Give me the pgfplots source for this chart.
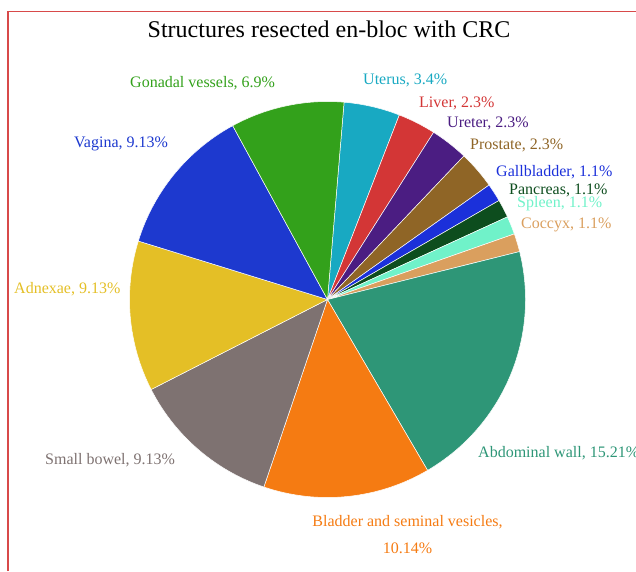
\documentclass[border=0pt]{standalone}
\usepackage{pgfplots}
\usepackage{pgfplotstable}
\pgfplotsset{compat=1.18}
\usepackage{fontspec}
\setmainfont{Liberation Serif}

% slice colours, in data order (clockwise from the top)
\definecolor{c0}{HTML}{18A9C2}  % Uterus
\definecolor{c1}{HTML}{D33636}  % Liver
\definecolor{c2}{HTML}{4B1D82}  % Ureter
\definecolor{c3}{HTML}{8F6526}  % Prostate
\definecolor{c4}{HTML}{1B30DA}  % Gallbladder
\definecolor{c5}{HTML}{0D4D1E}  % Pancreas
\definecolor{c6}{HTML}{70F2C9}  % Spleen
\definecolor{c7}{HTML}{DA9F5E}  % Coccyx
\definecolor{c8}{HTML}{2E9677}  % Abdominal wall
\definecolor{c9}{HTML}{F57B12}  % Bladder and seminal vesicles
\definecolor{c10}{HTML}{7E7271} % Small bowel
\definecolor{c11}{HTML}{E4BF26} % Adnexae
\definecolor{c12}{HTML}{1D39CF} % Vagina
\definecolor{c13}{HTML}{33A11B} % Gonadal vessels
\definecolor{frame}{HTML}{D84A4A}

\pgfplotstableread{
value
3.4
2.3
2.3
2.3
1.1
1.1
1.1
1.1
15.21
10.14
9.13
9.13
9.13
6.9
}\piedata

% cumulative angles of the slices
\def\startangle{85.2}
\pgfmathsetmacro\total{0}
\pgfplotsforeachungrouped \i in {0,...,13}{%
  \pgfplotstablegetelem{\i}{value}\of\piedata
  \pgfmathsetmacro\total{\total+\pgfplotsretval}%
}
\pgfmathsetmacro\cum{\startangle}
\pgfplotsforeachungrouped \i in {0,...,13}{%
  \pgfplotstablegetelem{\i}{value}\of\piedata
  \pgfmathsetmacro\slice{360*\pgfplotsretval/\total}%
  \expandafter\xdef\csname sa\i\endcsname{\cum}%
  \pgfmathsetmacro\cum{\cum-\slice}%
  \expandafter\xdef\csname ea\i\endcsname{\cum}%
}

\begin{document}
\begin{tikzpicture}
\begin{axis}[
    hide axis,
    x=1pt, y=1pt,
    xmin=0, xmax=636,
    ymin=0, ymax=571,
    clip=false,
    nodes={inner sep=0pt, font=\fontsize{16}{19}\selectfont},
]
\coordinate (bl) at (axis cs:0,0);
\coordinate (tr) at (axis cs:636,571);

\pgfplotsinvokeforeach{0,...,13}{
  \fill[c#1, draw=white, line width=0.5pt]
    (axis cs:327.5,271.5) -- ++(\csname sa#1\endcsname:198pt)
    arc[start angle=\csname sa#1\endcsname, end angle=\csname ea#1\endcsname, radius=198pt]
    -- cycle;
}

% frame
\draw[frame, line width=1.3pt] (axis cs:8,0) -- (axis cs:8,559.5) -- (axis cs:636,559.5);

% title
\node[anchor=base, font=\fontsize{24}{28}\selectfont] at (axis cs:329,533)
  {Structures resected en-bloc with CRC};

% slice labels
\node[anchor=base west, text=c13] at (axis cs:130,483) {Gonadal vessels, 6.9\%};
\node[anchor=base west, text=c0]  at (axis cs:363,486) {Uterus, 3.4\%};
\node[anchor=base west, text=c1]  at (axis cs:419,463) {Liver, 2.3\%};
\node[anchor=base west, text=c2]  at (axis cs:447,443) {Ureter, 2.3\%};
\node[anchor=base west, text=c3]  at (axis cs:470,421) {Prostate, 2.3\%};
\node[anchor=base west, text=c4]  at (axis cs:496,394) {Gallbladder, 1.1\%};
\node[anchor=base west, text=c5]  at (axis cs:509,376) {Pancreas, 1.1\%};
\node[anchor=base west, text=c6]  at (axis cs:517,363) {Spleen, 1.1\%};
\node[anchor=base west, text=c7]  at (axis cs:521,343) {Coccyx, 1.1\%};
\node[anchor=base west, text=c12] at (axis cs:74,423)  {Vagina, 9.13\%};
\node[anchor=base west, text=c11] at (axis cs:14,278)  {Adnexae, 9.13\%};
\node[anchor=base west, text=c10] at (axis cs:45,107)  {Small bowel, 9.13\%};
\node[anchor=base west, text=c8]  at (axis cs:478,114) {Abdominal wall, 15.21\%};
\node[anchor=base, text=c9] at (axis cs:407.5,45) {Bladder and seminal vesicles,};
\node[anchor=base, text=c9] at (axis cs:407.5,18) {10.14\%};
\end{axis}
\pgfresetboundingbox
\path[use as bounding box] (bl) rectangle (tr);
\end{tikzpicture}
\end{document}
